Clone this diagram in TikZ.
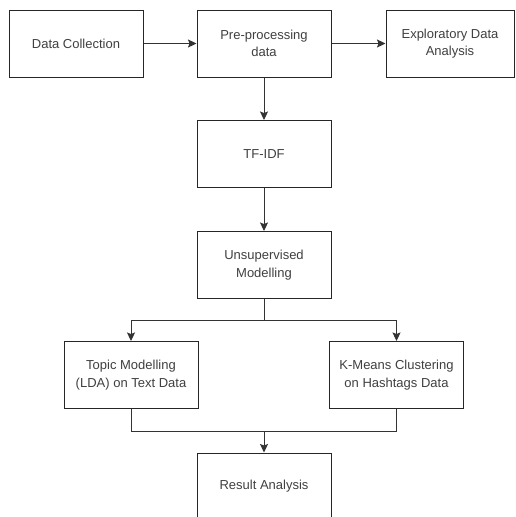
\documentclass[tikz,border=0pt]{standalone}
\usepackage{fontspec}
\setmainfont{Liberation Sans}
\usetikzlibrary{arrows.meta,positioning}

\begin{document}
\begin{tikzpicture}[x=1pt, y=-1pt,
	box/.style={draw=black!85, line width=1pt, fill=white, minimum width=134pt, minimum height=67pt, align=center, text=black!75, font=\fontsize{13}{17.5}\selectfont},
	line/.style={draw=black!80, line width=1pt},
	arr/.style={line, -{Stealth[length=8.5pt, width=8pt, inset=1.5pt]}}]

	\useasboundingbox (0,0) rectangle (515,517);

	%Kaesten
	\node[box] (dc) at (76,43.5) {Data Collection};
	\node[box] (pre) at (264,43.5) {Pre-processing\\data};
	\node[box, minimum width=128pt] (eda) at (450,43.5) {Exploratory Data\\Analysis};
	\node[box] (tfidf) at (264,154) {TF-IDF};
	\node[box] (unsup) at (264,265) {Unsupervised\\Modelling};
	\node[box] (lda) at (131,375) {Topic Modelling\\(LDA) on Text Data};
	\node[box] (km) at (396.5,375) {K-Means Clustering\\on Hashtags Data};
	\node[box] (res) at (264,486.5) {Result Analysis};

	\coordinate (split) at (264,320);
	\coordinate (join) at (264,431);

	%Pfeile
	\draw[arr] (dc) -- (pre);
	\draw[arr] (pre) -- (eda);
	\draw[arr] (pre) -- (tfidf);
	\draw[arr] (tfidf) -- (unsup);
	\draw[line] (unsup) -- (split);
	\draw[arr] (split) -| (lda);
	\draw[arr] (split) -| (km);
	\draw[line] (lda.south) |- (join);
	\draw[line] (km.south) |- (join);
	\draw[arr] (join) -- (res);

\end{tikzpicture}
\end{document}
